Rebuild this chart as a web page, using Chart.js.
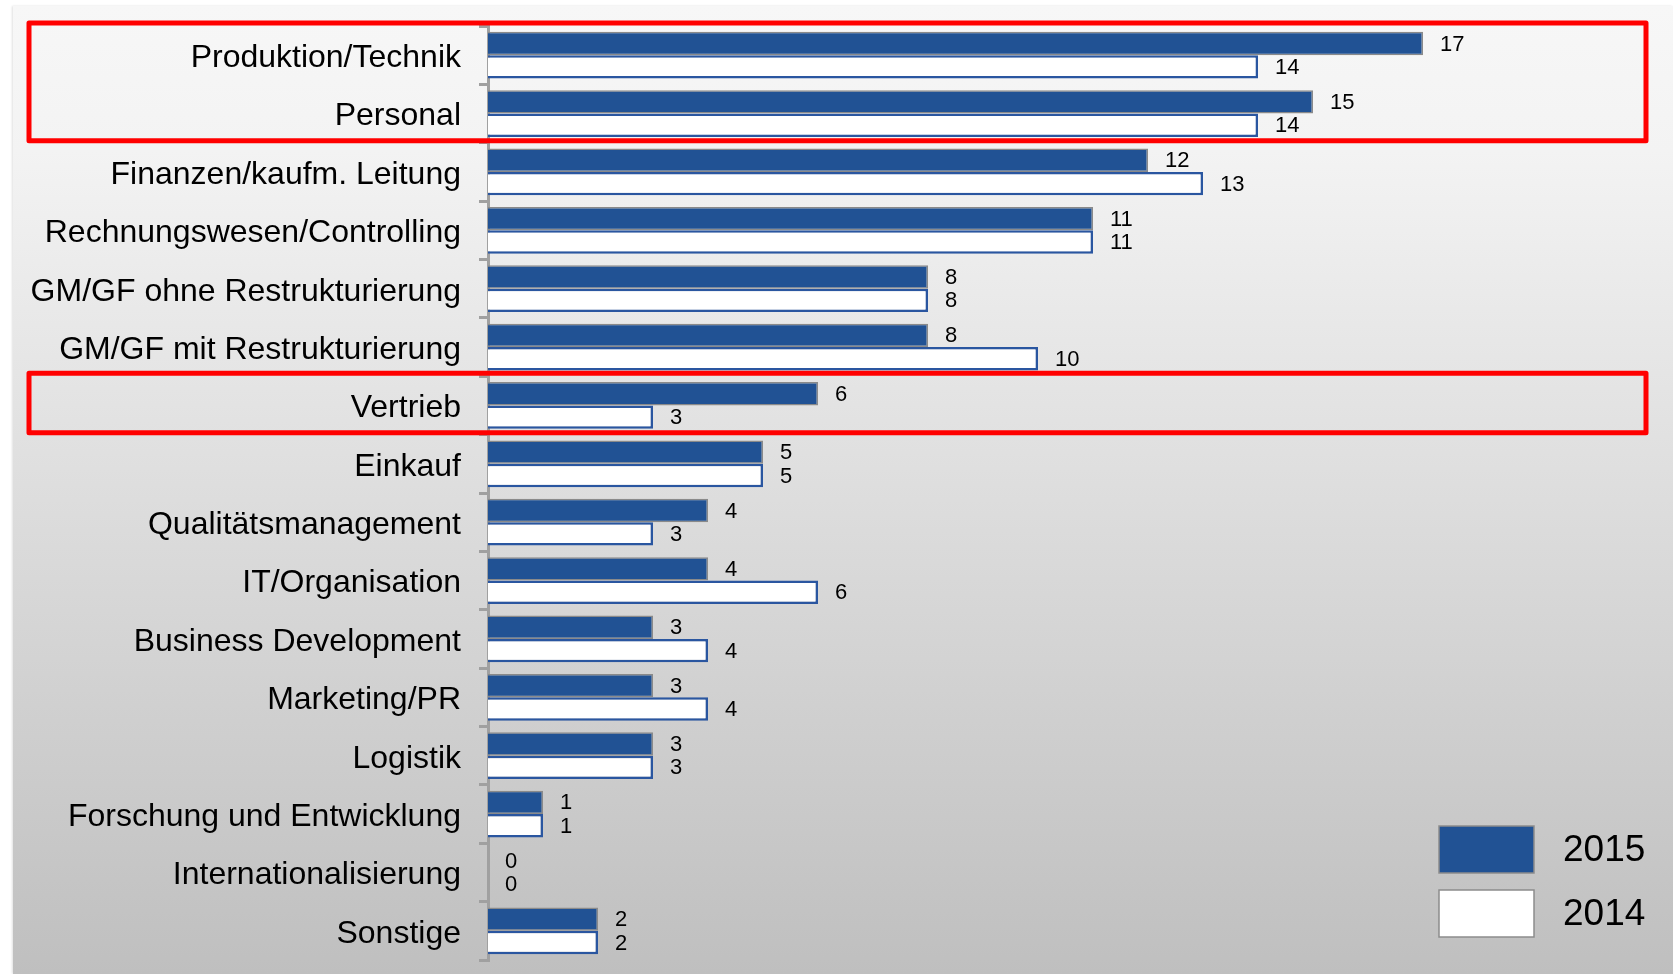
<!DOCTYPE html>
<html>
<head>
<meta charset="utf-8">
<script src="https://cdn.jsdelivr.net/npm/chart.js@4.4.1/dist/chart.umd.min.js"></script>
<style>
  html, body { margin: 0; padding: 0; background: #ffffff; }
  #wrap { position: relative; width: 1673px; height: 974px; overflow: hidden; }
  #panel {
    position: absolute; left: 13px; top: 6px; right: 0; bottom: 0;
    background: linear-gradient(to bottom, #f7f7f7 0%, #f3f3f3 15%, #bfbfbf 100%);
    box-shadow: -1px 0 2px rgba(0,0,0,0.12);
  }
  #chart { position: absolute; left: 0; top: 0; }
</style>
</head>
<body>
<div id="wrap">
  <div id="panel"></div>
  <canvas id="chart" width="1673" height="974"></canvas>
</div>
<script>
// Kategorien (von oben nach unten)
const categories = [
  "Produktion/Technik",
  "Personal",
  "Finanzen/kaufm. Leitung",
  "Rechnungswesen/Controlling",
  "GM/GF ohne Restrukturierung",
  "GM/GF mit Restrukturierung",
  "Vertrieb",
  "Einkauf",
  "Qualitätsmanagement",
  "IT/Organisation",
  "Business Development",
  "Marketing/PR",
  "Logistik",
  "Forschung und Entwicklung",
  "Internationalisierung",
  "Sonstige"
];
const values2015 = [17, 15, 12, 11, 8, 8, 6, 5, 4, 4, 3, 3, 3, 1, 0, 2];
const values2014 = [14, 14, 13, 11, 8, 10, 3, 5, 3, 6, 4, 4, 3, 1, 0, 2];
const seriesLabels = ["2015", "2014"];
// hervorgehobene Kategorien (rote Rahmen): [erste, letzte]
const highlightGroups = [[0, 1], [6, 6]];

const FONT = '"Liberation Sans", Arial, Helvetica, sans-serif';

// Werte rechts neben den Balken
const valueLabels = {
    id: 'valueLabels',
    afterDatasetsDraw(chart) {
        const ctx = chart.ctx;
        ctx.save();
        ctx.font = '22px ' + FONT;
        ctx.fillStyle = '#000';
        ctx.textAlign = 'left';
        ctx.textBaseline = 'middle';
        chart.data.datasets.forEach((ds, di) => {
            const meta = chart.getDatasetMeta(di);
            meta.data.forEach((bar, i) => {
                ctx.fillText(String(ds.data[i]), bar.x + 17, bar.y + 1);
            });
        });
        ctx.restore();
    }
};

// rote Rahmen um Kategorien
const highlightBoxes = {
    id: 'highlightBoxes',
    afterDraw(chart) {
        const y = chart.scales.y;
        const step = y.getPixelForValue(1) - y.getPixelForValue(0);
        const ctx = chart.ctx;
        ctx.save();
        ctx.strokeStyle = '#ff0000';
        ctx.lineWidth = 5;
        ctx.lineJoin = 'round';
        highlightGroups.forEach(g => {
            const top = y.getPixelForValue(g[0]) - step / 2 - 3;
            const bottom = y.getPixelForValue(g[1]) + step / 2 - 2;
            ctx.strokeRect(29, top, 1617, bottom - top);
        });
        ctx.restore();
    }
};

// Legende unten rechts
const boxLegend = {
    id: 'boxLegend',
    afterDraw(chart) {
        const ctx = chart.ctx;
        ctx.save();
        chart.data.datasets.forEach((ds, i) => {
            const bx = 1439, by = 826 + i * 64, bw = 95, bh = 47;
            ctx.fillStyle = ds.backgroundColor;
            ctx.fillRect(bx, by, bw, bh);
            ctx.strokeStyle = '#8c8c8c';
            ctx.lineWidth = 1.5;
            ctx.strokeRect(bx, by, bw, bh);
            ctx.fillStyle = '#000';
            ctx.font = '37px ' + FONT;
            ctx.textBaseline = 'middle';
            ctx.fillText(ds.label, 1563, by + bh / 2 + 1);
        });
        ctx.restore();
    }
};

const ctx = document.getElementById('chart').getContext('2d');
new Chart(ctx, {
    type: 'bar',
    data: {
        labels: categories,
        datasets: [{
            label: seriesLabels[0],
            data: values2015,
            backgroundColor: '#215294',
            borderColor: '#8a8a8a',
            borderWidth: 1.5,
            categoryPercentage: 0.8,
            barPercentage: 1.0
        }, {
            label: seriesLabels[1],
            data: values2014,
            backgroundColor: '#ffffff',
            borderColor: '#2a56a0',
            borderWidth: 2.5,
            categoryPercentage: 0.8,
            barPercentage: 1.0
        }]
    },
    options: {
        indexAxis: 'y',
        responsive: false,
        animation: false,
        layout: { padding: { top: 26, bottom: 14, left: 0, right: 85 } },
        plugins: {
            legend: { display: false },
            tooltip: { enabled: false }
        },
        scales: {
            x: {
                display: false,
                min: 0,
                max: 20
            },
            y: {
                afterFit: (s) => {
                    s.width = 488;
                    s.paddingTop = 0;
                    s.paddingBottom = 0;
                },
                grid: {
                    display: true,
                    drawOnChartArea: false,
                    drawTicks: true,
                    tickLength: 9,
                    color: '#a0a0a0',
                    lineWidth: 3,
                    offset: true
                },
                border: { display: true, color: '#a0a0a0', width: 3 },
                ticks: {
                    color: '#000',
                    padding: 18,
                    labelOffset: 3,
                    font: { family: FONT, size: 32 }
                }
            }
        }
    },
    plugins: [valueLabels, highlightBoxes, boxLegend]
});
</script>
</body>
</html>
